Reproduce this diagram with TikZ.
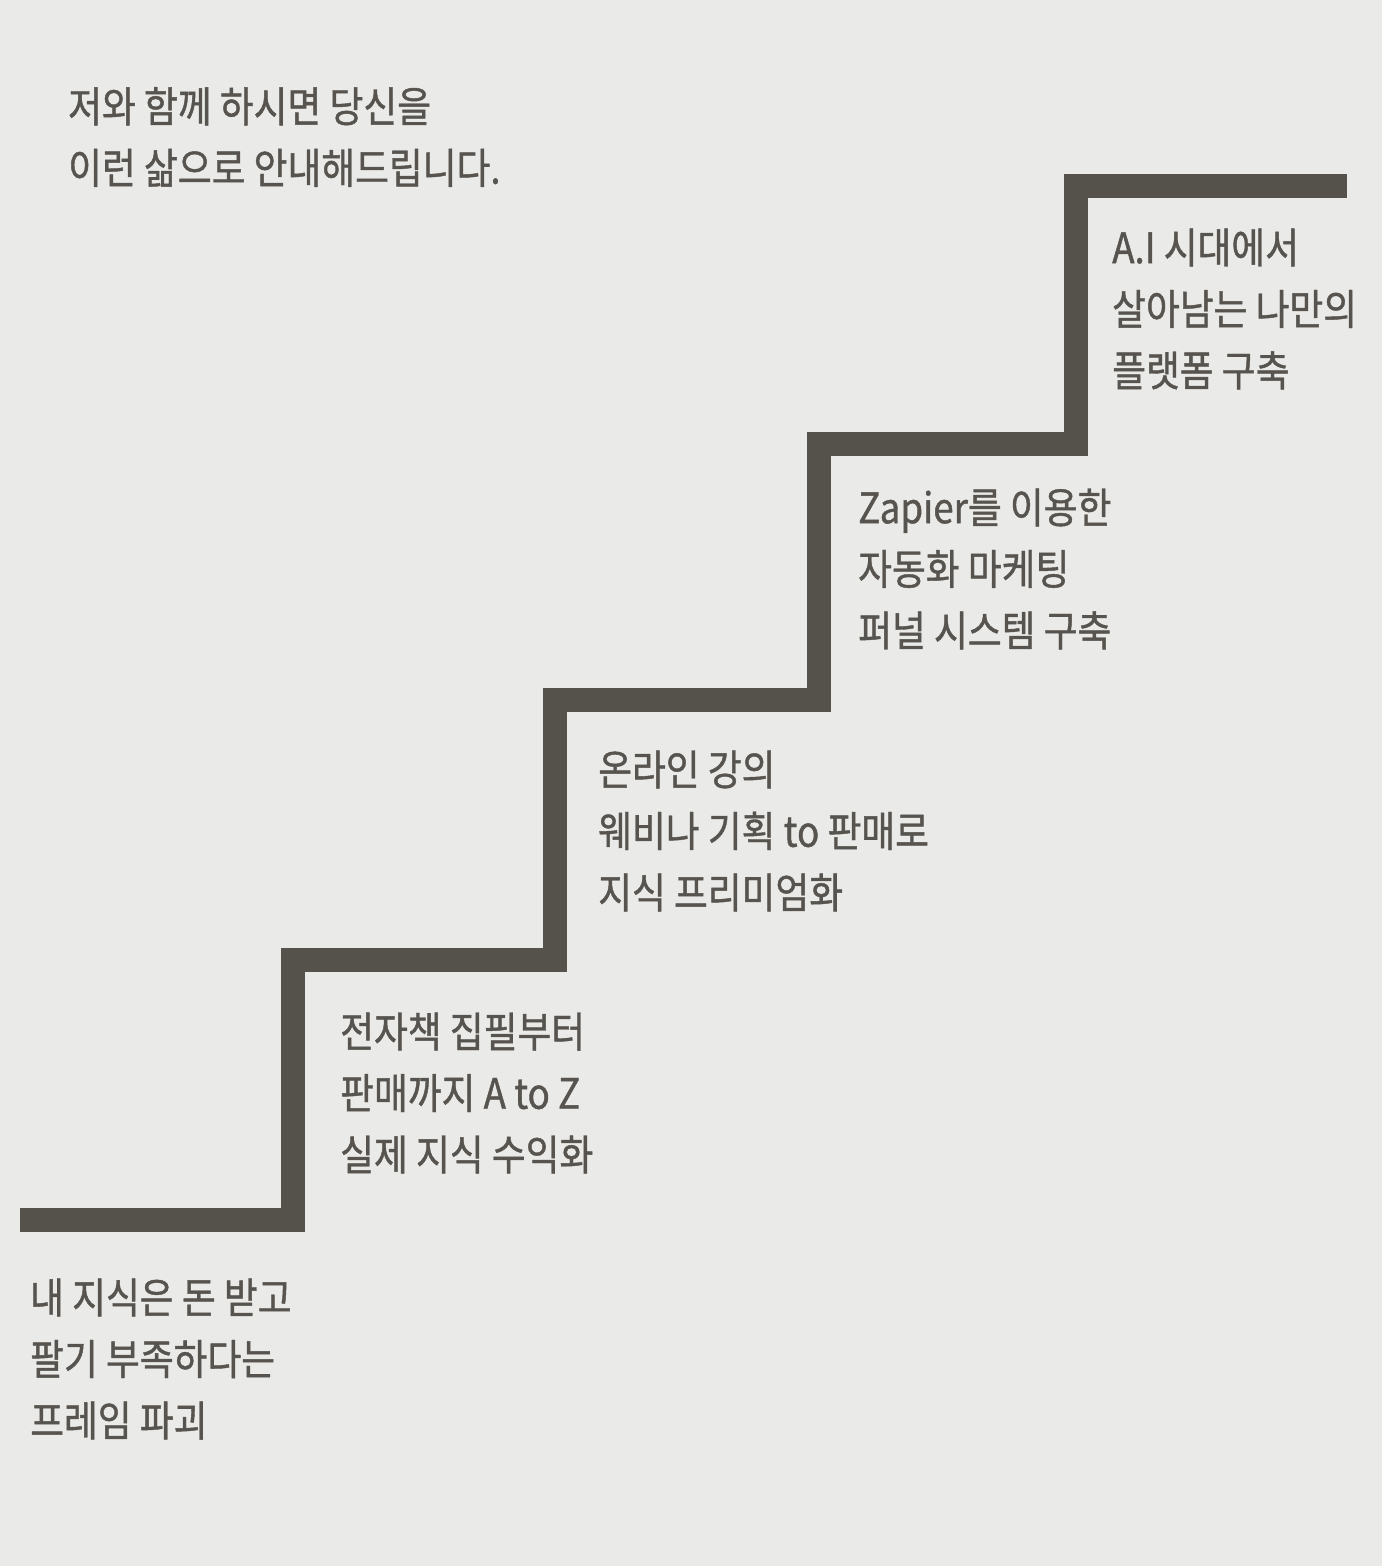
\documentclass[tikz,border=0pt]{standalone}
\usepackage{fontspec}
\newfontfamily\krfont[FakeStretch=0.875, FakeBold=1]{Noto Sans CJK KR}
\usepackage{tikz}
\usetikzlibrary{positioning}
\definecolor{stairgray}{HTML}{55524B}
\definecolor{textgray}{HTML}{57544F}
\definecolor{paper}{HTML}{EAEAE8}
\tikzset{
x=1pt, y=-1pt, % one unit per pixel of the layout
stairline/.style={draw=stairgray, line width=24.5pt, line join=miter}, % the staircase
steplabel/.style={anchor=west, inner sep=0pt, align=left, text=textgray,
  font=\krfont\fontsize{42}{61.5}\selectfont}, % text on each step
}
\begin{document}
\begin{tikzpicture}
    \fill[paper] (0,0) rectangle (1382,1566);
    \useasboundingbox (0,0) rectangle (1382,1566);
    \draw[stairline] (20,1220) -- (293,1220) -- (293,960) -- (555,960) -- (555,700)
        -- (819,700) -- (819,444) -- (1076,444) -- (1076,186) -- (1347,186);
    \node[steplabel] (intro) at (68,137) {저와 함께 하시면 당신을\\이런 삶으로 안내해드립니다.};
    \node[steplabel] (step1) at (30,1359) {내 지식은 돈 받고\\팔기 부족하다는\\프레임 파괴};
    \node[steplabel] (step2) at (340,1093) {전자책 집필부터\\판매까지 A to Z\\실제 지식 수익화};
    \node[steplabel] (step3) at (598,831) {온라인 강의\\웨비나 기획 to 판매로\\지식 프리미엄화};
    \node[steplabel] (step4) at (858,569) {Zapier를 이용한\\자동화 마케팅\\퍼널 시스템 구축};
    \node[steplabel] (step5) at (1112,309) {A.I 시대에서\\살아남는 나만의\\플랫폼 구축};
\end{tikzpicture}
\end{document}
